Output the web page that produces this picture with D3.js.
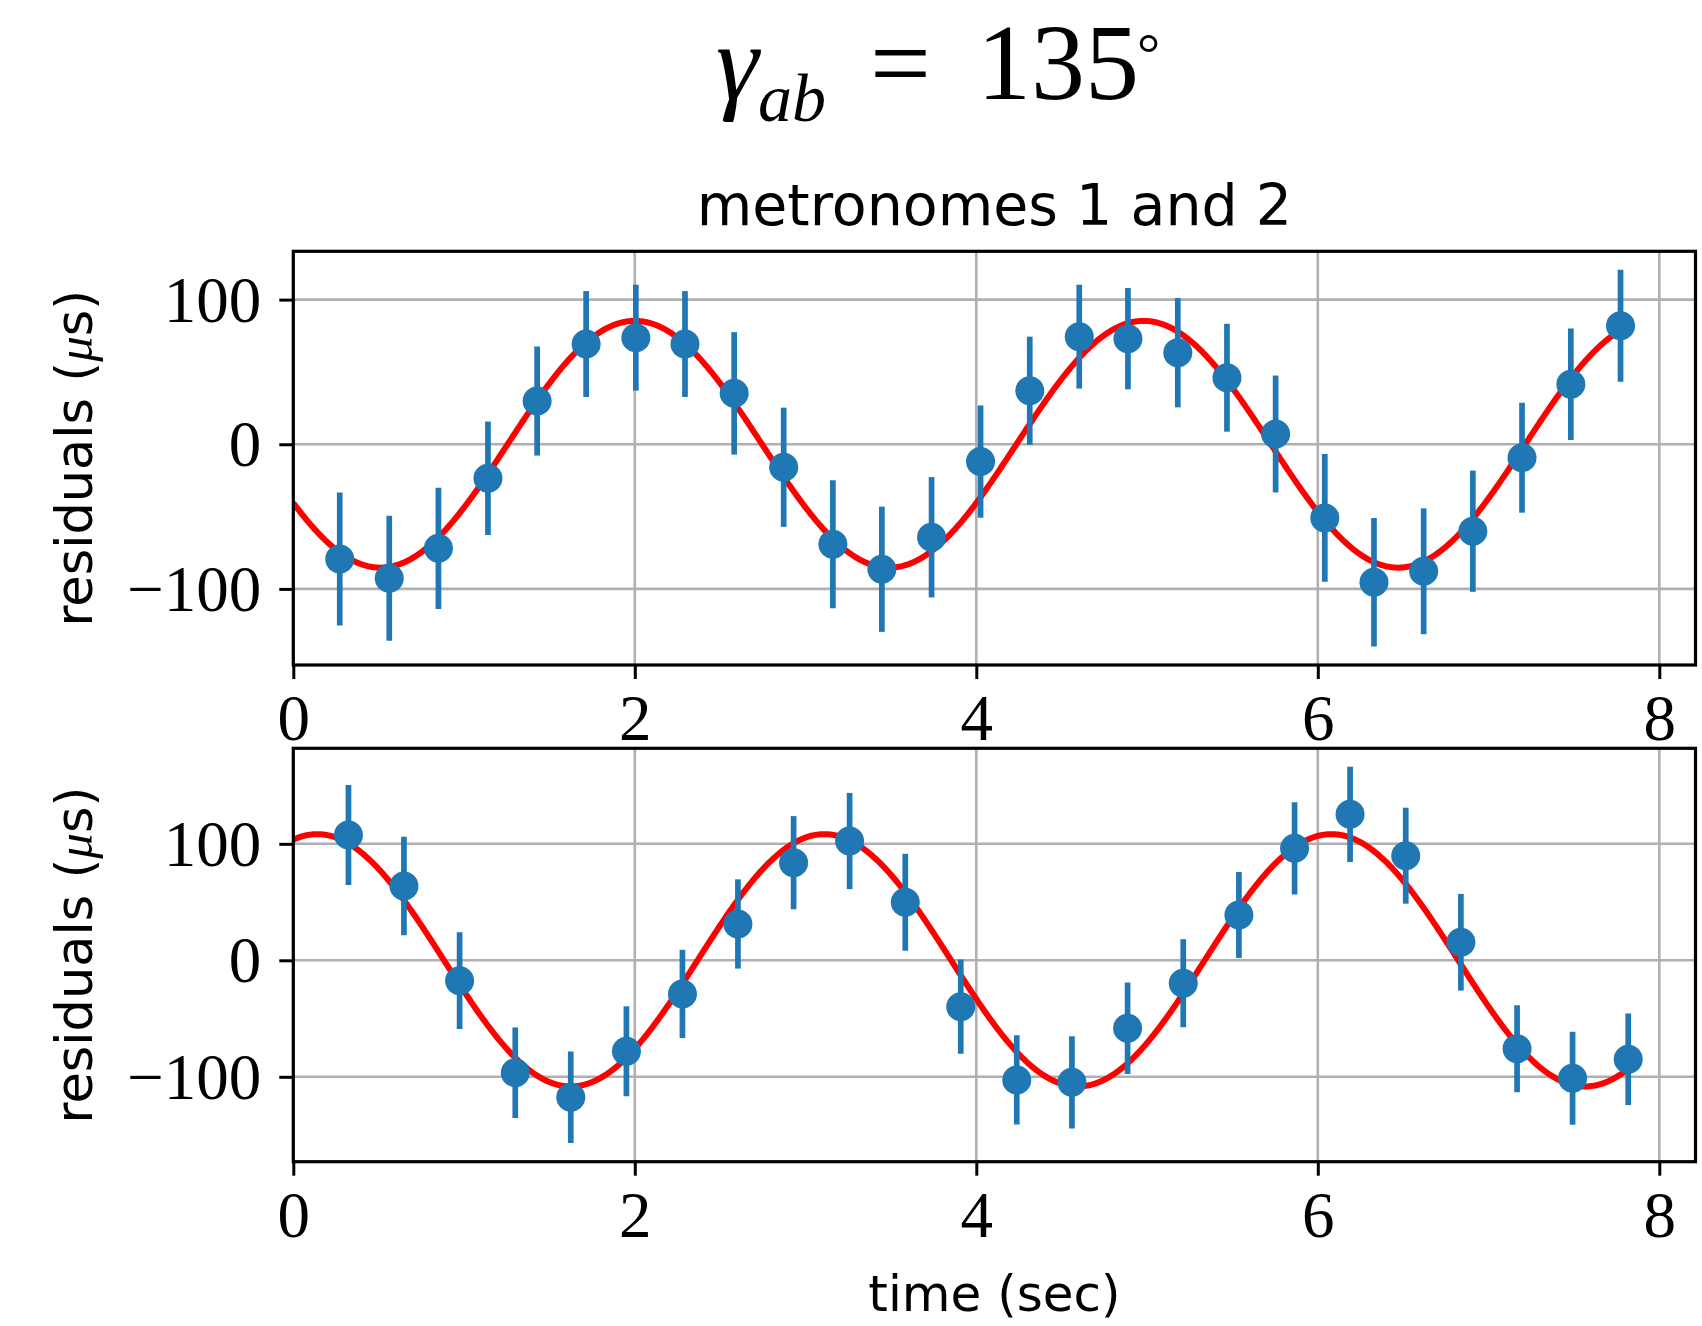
<!DOCTYPE html>
<html>
<head>
<meta charset="utf-8">
<script src="https://cdn.jsdelivr.net/npm/d3@7"></script>
<style>
  html, body { margin: 0; padding: 0; background: #fff; }
  svg { display: block; }
</style>
</head>
<body>
<script>
// ---- measured residuals, metronomes 1 and 2 (top panel) ----
const topTime = [0.272, 0.562, 0.850, 1.140, 1.428, 1.715, 2.006, 2.294, 2.582, 2.872,
                 3.160, 3.447, 3.738, 4.025, 4.313, 4.603, 4.888, 5.180, 5.468, 5.753,
                 6.041, 6.329, 6.620, 6.908, 7.196, 7.482, 7.773];
const topResid = [-79.3, -92.6, -71.9, -23.5, 29.9, 69.3, 73.7, 69.3, 35.2, -15.9,
                  -69.1, -86.4, -64.3, -12.0, 37.0, 74.4, 73.0, 63.3, 46.0, 7.1,
                  -50.9, -95.4, -87.8, -60.1, -9.3, 41.5, 82.0];
const topErr = [46.0, 43.2, 41.9, 39.2, 37.7, 36.6, 36.6, 36.6, 42.3, 41.2,
                44.3, 43.3, 41.6, 38.8, 37.4, 35.9, 35.0, 37.8, 37.3, 40.4,
                44.2, 44.4, 43.5, 41.9, 38.0, 38.6, 38.7];
// sinusoidal fit: amplitude (µs), period (s), time of a maximum (s), end time (s)
const topFit = { amp: 85.3, period: 2.98, peak: 2.0, end: 7.773 };

// ---- measured residuals (bottom panel) ----
const botTime = [0.323, 0.648, 0.974, 1.300, 1.625, 1.951, 2.279, 2.604, 2.930, 3.258,
                 3.584, 3.909, 4.237, 4.560, 4.886, 5.212, 5.538, 5.864, 6.189, 6.515,
                 6.838, 7.167, 7.492, 7.818];
const botResid = [107.6, 63.8, -17.5, -96.5, -117.6, -78.1, -28.9, 31.2, 83.8, 102.4,
                  49.8, -39.8, -102.7, -104.7, -58.4, -19.7, 38.9, 96.1, 125.3, 89.8,
                  15.5, -75.9, -101.3, -85.0];
const botErr = [42.9, 42.2, 41.5, 38.8, 39.3, 38.6, 37.9, 38.3, 40.0, 41.3,
                41.6, 40.5, 38.3, 39.6, 39.3, 37.8, 36.9, 39.6, 40.9, 41.2,
                41.5, 37.3, 39.9, 39.3];
const botFit = { amp: 108.3, period: 2.97, peak: 0.14, end: 7.818 };

// ---- axis settings ----
const xTicks = [0, 2, 4, 6, 8];
const yTicks = [-100, 0, 100];
const xDomain = [0, 8.212];
const topYDomain = [-152.6, 133.4];
const botYDomain = [-172.9, 182.0];

const W = 1702, H = 1326;
const C_BLUE = "#1f77b4", C_RED = "#ff0000", C_GRID = "#b0b0b0";
const SERIF = "'Liberation Serif', 'Times New Roman', serif";
const SANS = "'DejaVu Sans', sans-serif";

const svg = d3.select("body").append("svg")
  .attr("width", W).attr("height", H)
  .attr("viewBox", `0 0 ${W} ${H}`);

const plotLeft = 293.3, plotRight = 1695.5;
const x = d3.scaleLinear().domain(xDomain).range([plotLeft, plotRight]);

const panels = [
  { id: "p1", time: topTime, resid: topResid, err: topErr, fit: topFit,
    top: 251.3, bottom: 665.0, yDomain: topYDomain },
  { id: "p2", time: botTime, resid: botResid, err: botErr, fit: botFit,
    top: 748.3, bottom: 1161.7, yDomain: botYDomain }
];

const defs = svg.append("defs");

panels.forEach(p => {
  const y = d3.scaleLinear().domain(p.yDomain).range([p.bottom, p.top]);
  const g = svg.append("g");

  defs.append("clipPath").attr("id", "clip-" + p.id)
    .append("rect")
    .attr("x", plotLeft).attr("y", p.top)
    .attr("width", plotRight - plotLeft).attr("height", p.bottom - p.top);

  // grid
  const grid = g.append("g");
  grid.selectAll("line.gx").data(xTicks).join("line")
    .attr("x1", d => x(d)).attr("x2", d => x(d))
    .attr("y1", p.top).attr("y2", p.bottom)
    .attr("stroke", C_GRID).attr("stroke-width", 2.6);
  grid.selectAll("line.gy").data(yTicks).join("line")
    .attr("x1", plotLeft).attr("x2", plotRight)
    .attr("y1", d => y(d)).attr("y2", d => y(d))
    .attr("stroke", C_GRID).attr("stroke-width", 2.6);

  const plot = g.append("g").attr("clip-path", `url(#clip-${p.id})`);

  // fitted sinusoid
  const f = p.fit;
  const ts = d3.range(0, f.end, 0.005).concat([f.end]);
  const model = t => f.amp * Math.cos(2 * Math.PI * (t - f.peak) / f.period);
  plot.append("path")
    .datum(ts)
    .attr("fill", "none")
    .attr("stroke", C_RED)
    .attr("stroke-width", 6)
    .attr("stroke-linejoin", "round")
    .attr("d", d3.line().x(t => x(t)).y(t => y(model(t))));

  const pts = p.time.map((t, i) => ({ t, r: p.resid[i], e: p.err[i] }));

  // error bars
  plot.selectAll("line.err").data(pts).join("line")
    .attr("x1", d => x(d.t)).attr("x2", d => x(d.t))
    .attr("y1", d => y(d.r - d.e)).attr("y2", d => y(d.r + d.e))
    .attr("stroke", C_BLUE).attr("stroke-width", 5.7);

  // markers
  plot.selectAll("circle.pt").data(pts).join("circle")
    .attr("cx", d => x(d.t)).attr("cy", d => y(d.r))
    .attr("r", 14.5).attr("fill", C_BLUE);

  // x axis
  const xa = g.append("g").attr("transform", `translate(0,${p.bottom})`)
    .call(d3.axisBottom(x).tickValues(xTicks).tickSize(14).tickFormat(d3.format("d")));
  xa.select(".domain").remove();
  xa.selectAll(".tick line").attr("stroke", "#000").attr("stroke-width", 3);
  xa.selectAll(".tick text")
    .attr("y", 75).attr("dy", null)
    .attr("font-family", SERIF).attr("font-size", 65).attr("fill", "#000");

  // y axis
  const ya = g.append("g").attr("transform", `translate(${plotLeft},0)`)
    .call(d3.axisLeft(y).tickValues(yTicks).tickSize(14).tickPadding(18).tickFormat(d3.format("d")));
  ya.select(".domain").remove();
  ya.selectAll(".tick line").attr("stroke", "#000").attr("stroke-width", 3);
  ya.selectAll(".tick text")
    .attr("dy", null).attr("y", 21.5)
    .attr("font-family", SERIF).attr("font-size", 65).attr("fill", "#000");

  // spines
  g.append("rect")
    .attr("x", plotLeft).attr("y", p.top)
    .attr("width", plotRight - plotLeft).attr("height", p.bottom - p.top)
    .attr("fill", "none").attr("stroke", "#000").attr("stroke-width", 3.2);

  // y label
  const yl = g.append("text")
    .attr("transform", `translate(92,${(p.top + p.bottom) / 2}) rotate(-90)`)
    .attr("text-anchor", "middle")
    .attr("font-family", SANS).attr("font-size", 51).attr("fill", "#000");
  yl.append("tspan").text("residuals (");
  yl.append("tspan").attr("font-family", SERIF).attr("font-style", "italic").text("μ");
  yl.append("tspan").text("s)");
});

// panel title
svg.append("text")
  .attr("x", (plotLeft + plotRight) / 2).attr("y", 225)
  .attr("text-anchor", "middle")
  .attr("font-family", SANS).attr("font-size", 57).attr("fill", "#000")
  .text("metronomes 1 and 2");

// x label
svg.append("text")
  .attr("x", (plotLeft + plotRight) / 2).attr("y", 1311)
  .attr("text-anchor", "middle")
  .attr("font-family", SANS).attr("font-size", 50).attr("fill", "#000")
  .text("time (sec)");

// figure title: gamma_ab = 135 degrees, as one text with sub/superscript spans
const title = svg.append("text")
  .attr("x", 716).attr("y", 99)
  .attr("font-family", SERIF).attr("font-size", 108).attr("fill", "#000");
title.append("tspan").attr("font-style", "italic").text("γ");
title.append("tspan").attr("x", 758).attr("dy", 22)
  .attr("font-size", 68).attr("font-style", "italic").text("ab");
title.append("tspan").attr("x", 870).attr("dy", -22).text("=");
title.append("tspan").attr("x", 977).text("135");
title.append("tspan").attr("x", 1137).attr("dy", -26)
  .attr("font-size", 58).text("°");
</script>
</body>
</html>
